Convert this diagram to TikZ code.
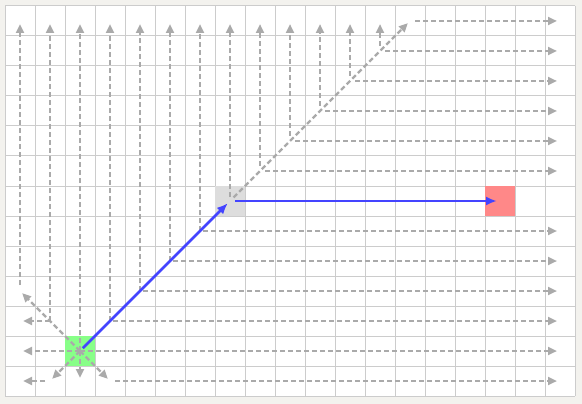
\documentclass[tikz,border=0pt]{standalone}
\usetikzlibrary{arrows.meta}
\definecolor{bgc}{HTML}{F3F2EE}
\definecolor{gridc}{HTML}{CCCCCC}
\definecolor{scanc}{HTML}{AAAAAA}
\definecolor{startc}{HTML}{88FF88}
\definecolor{jumpc}{HTML}{DDDDDD}
\definecolor{goalc}{HTML}{FF8888}
\definecolor{pathc}{HTML}{4444FF}
\tikzset{
  gridline/.style={draw=gridc, line width=1pt},
  cellbox/.style={draw=none, minimum size=30pt, inner sep=0pt, outer sep=0pt},
  scanline/.style={draw=scanc, line width=2.4pt, dash pattern=on 5pt off 3pt,
    -{Triangle[length=9pt,width=8pt]}, shorten >=3pt},
  pathline/.style={draw=pathc, line width=2.6pt,
    -{Latex[length=11pt,width=9pt]}, shorten >=3pt, shorten <=4pt},
}
\begin{document}
\begin{tikzpicture}[x=1pt,y=-1pt]
\useasboundingbox (0,0) rectangle (582,404);
\fill[bgc] (0,0) rectangle (582,404);
\fill[white] (5,6) rectangle (575,396);
\foreach \k in {0,...,19} \draw[gridline] (5+30*\k,6) -- (5+30*\k,396);
\foreach \k in {0,...,13} \draw[gridline] (5,6+30*\k) -- (575,6+30*\k);
\foreach \i in {0,...,18} {
  \foreach \j in {0,...,12} {
    \coordinate (p\i-\j) at (20+30*\i,21+30*\j);
  }
}
\node[cellbox, fill=startc] (start) at (p2-11) {};
\node[cellbox, fill=jumpc] (jump) at (p7-6) {};
\node[cellbox, fill=goalc] (goal) at (p16-6) {};
% scans from start
\draw[scanline] (start.center) -- (p0-11);
\draw[scanline] (start.center) -- (p18-11);
\draw[scanline] (start.center) -- (p2-0);
\draw[scanline] (start.center) -- (p2-12);
\draw[scanline] (start.center) -- (p1-12);
\draw[scanline, shorten <=5pt] (p1-12) -- (p0-12);
\draw[scanline] (start.center) -- (p3-12);
\draw[scanline, shorten <=5pt] (p3-12) -- (p18-12);
\draw[scanline] (start.center) -- (p0-9);
\draw[scanline] (p1-10) -- (p1-0);
\draw[scanline] (p1-10) -- (p0-10);
\draw[scanline, shorten <=6pt] (p0-9) -- (p0-0);
% scans along the path diagonal
\foreach \a/\b in {3/10,4/9,5/8,6/7} {
  \draw[scanline] (p\a-\b) -- (p\a-0);
  \draw[scanline, shorten <=3pt] (p\a-\b) -- (p18-\b);
}
% scans beyond the jump point
\draw[scanline, shorten <=4pt] (jump.center) -- (p7-0);
\draw[scanline, shorten <=5pt] (jump.center) -- (p13-0);
\foreach \a/\b in {8/5,9/4,10/3,11/2,12/1} {
  \draw[scanline, shorten <=5pt] (p\a-\b) -- (p\a-0);
  \draw[scanline, shorten <=5pt] (p\a-\b) -- (p18-\b);
}
\draw[scanline, shorten <=5pt] (p13-0) -- (p18-0);
% path
\draw[pathline] (start.center) -- (jump.center);
\draw[pathline, shorten <=5pt] (jump.center) -- (goal.center);
\end{tikzpicture}
\end{document}
